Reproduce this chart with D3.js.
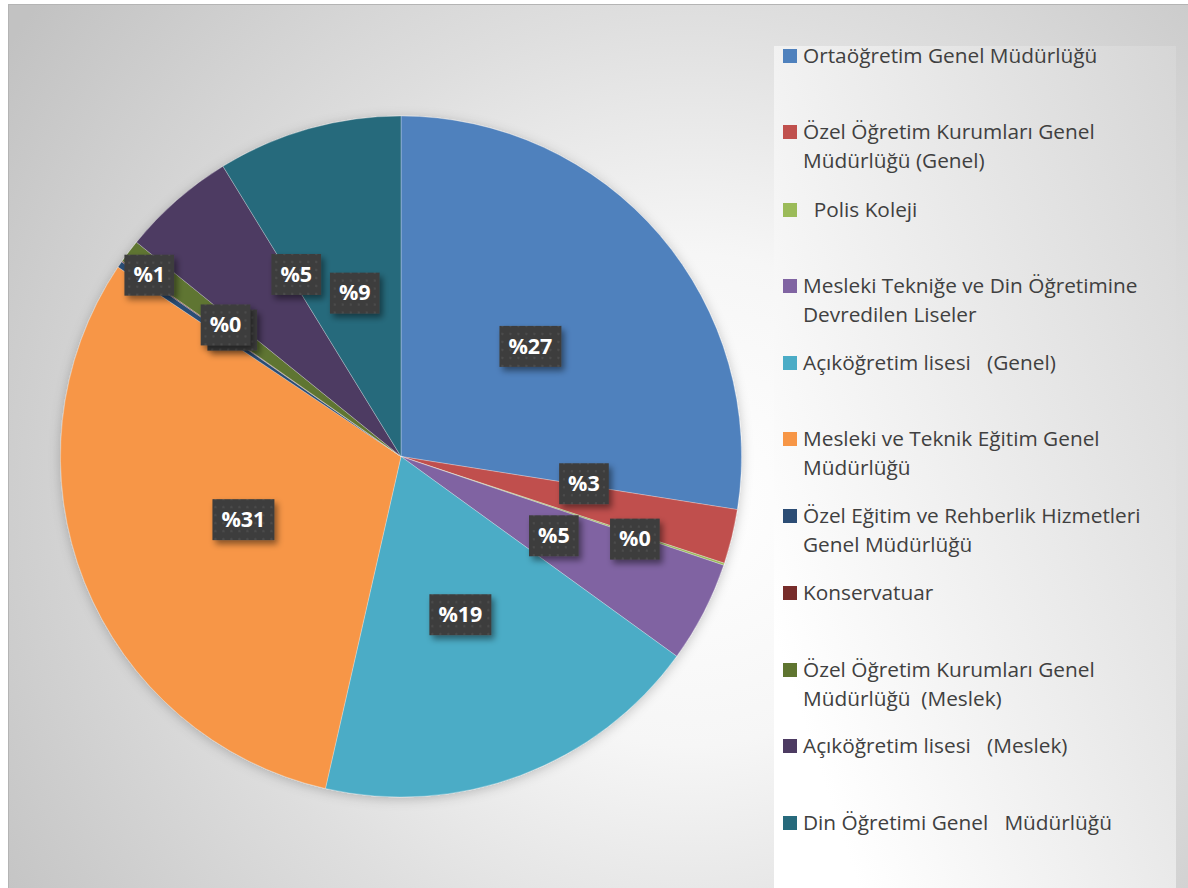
<!DOCTYPE html>
<html>
<head>
<meta charset="utf-8">
<script src="https://cdn.jsdelivr.net/npm/d3@7"></script>
<style>
  body { margin: 0; background: #fff; }
  svg { display: block; }
  .legend text { font-family: "Open Sans", sans-serif; font-size: 20.8px; fill: #404040; white-space: pre; }
  .lbl text { font-family: "Open Sans", sans-serif; font-size: 21.5px; font-weight: bold; fill: #fff; }
</style>
</head>
<body>
<svg id="chart"></svg>
<script>
// Data
const categories = [
    "Ortaöğretim Genel Müdürlüğü",
    "Özel Öğretim Kurumları Genel Müdürlüğü (Genel)",
    "  Polis Koleji",
    "Mesleki Tekniğe ve Din Öğretimine Devredilen Liseler",
    "Açıköğretim lisesi   (Genel)",
    "Mesleki ve Teknik Eğitim Genel Müdürlüğü",
    "Özel Eğitim ve Rehberlik Hizmetleri Genel Müdürlüğü",
    "Konservatuar",
    "Özel Öğretim Kurumları Genel Müdürlüğü  (Meslek)",
    "Açıköğretim lisesi   (Meslek)",
    "Din Öğretimi Genel   Müdürlüğü"
];
// legend line breaks (same order as categories)
const legendLines = [
    ["Ortaöğretim Genel Müdürlüğü"],
    ["Özel Öğretim Kurumları Genel", "Müdürlüğü (Genel)"],
    ["  Polis Koleji"],
    ["Mesleki Tekniğe ve Din Öğretimine", "Devredilen Liseler"],
    ["Açıköğretim lisesi   (Genel)"],
    ["Mesleki ve Teknik Eğitim Genel", "Müdürlüğü"],
    ["Özel Eğitim ve Rehberlik Hizmetleri", "Genel Müdürlüğü"],
    ["Konservatuar"],
    ["Özel Öğretim Kurumları Genel", "Müdürlüğü  (Meslek)"],
    ["Açıköğretim lisesi   (Meslek)"],
    ["Din Öğretimi Genel   Müdürlüğü"]
];
const values = [27.47, 2.58, 0.1, 4.8, 18.57, 30.8, 0.3, 0.05, 1.1, 5.4, 8.75];
const colors = ["#4F81BD", "#C0504D", "#9BBB59", "#8064A2", "#4BACC6", "#F79646",
                "#2C4D75", "#772C2A", "#5F7530", "#4D3B62", "#276A7C"];

// Layout
const W = 1188, H = 888;
const cx = 401, cy = 456.5, R = 340.5;
const legendY = [56, 132, 210, 286, 363, 439, 516, 593, 670, 746, 823];
// label placement: [radius fraction, angle nudge in degrees]
const labelPos = [[0.5, 0], [0.543, -5.3], [0.728, 0.9], [0.505, 0], [0.495, 0], [0.498, 0],
                  [0.62, 2.6], [0.645, 2.0], [0.912, -1.2], [0.618, 11.4], [0.5, 0]];

const svg = d3.select("#chart").attr("width", W).attr("height", H);
const defs = svg.append("defs");

// Background gradient
const bg = defs.append("radialGradient").attr("id", "bg")
    .attr("gradientUnits", "userSpaceOnUse")
    .attr("cx", 690).attr("cy", 500).attr("r", 820);
bg.append("stop").attr("offset", 0).attr("stop-color", "#ffffff");
bg.append("stop").attr("offset", 0.3).attr("stop-color", "#f6f6f6");
bg.append("stop").attr("offset", 0.6).attr("stop-color", "#dedede");
bg.append("stop").attr("offset", 1).attr("stop-color", "#c2c2c2");

const lg = defs.append("linearGradient").attr("id", "lg")
    .attr("x1", 0).attr("y1", 0.7).attr("x2", 1).attr("y2", 0);
lg.append("stop").attr("offset", 0).attr("stop-color", "#ffffff");
lg.append("stop").attr("offset", 1).attr("stop-color", "#d6d6d6");

// Shadows
const pieShadow = defs.append("filter").attr("id", "pieShadow")
    .attr("x", "-10%").attr("y", "-10%").attr("width", "120%").attr("height", "120%");
pieShadow.append("feDropShadow").attr("dx", 0).attr("dy", 2).attr("stdDeviation", 6)
    .attr("flood-color", "#000").attr("flood-opacity", 0.22);

const boxShadow = defs.append("filter").attr("id", "boxShadow")
    .attr("x", "-30%").attr("y", "-30%").attr("width", "160%").attr("height", "160%");
boxShadow.append("feDropShadow").attr("dx", 3).attr("dy", 4).attr("stdDeviation", 3)
    .attr("flood-color", "#000").attr("flood-opacity", 0.45);

const dots = defs.append("pattern").attr("id", "dots")
    .attr("patternUnits", "userSpaceOnUse").attr("width", 8).attr("height", 8);
dots.append("rect").attr("width", 8).attr("height", 8).attr("fill", "#3d3d3d");
dots.append("circle").attr("cx", 4).attr("cy", 4).attr("r", 1.2).attr("fill", "#4c4c4c");

// Frame + background
svg.append("rect").attr("x", 8).attr("y", 4).attr("width", W - 8).attr("height", H - 4)
    .attr("fill", "url(#bg)");
svg.append("line").attr("x1", 8).attr("x2", W).attr("y1", 4.5).attr("y2", 4.5)
    .attr("stroke", "#b4b4b4").attr("stroke-width", 1);
svg.append("line").attr("x1", 8.5).attr("x2", 8.5).attr("y1", 4).attr("y2", H)
    .attr("stroke", "#b4b4b4").attr("stroke-width", 1);

// Legend panel
svg.append("rect").attr("x", 774).attr("y", 46).attr("width", 402).attr("height", H - 46)
    .attr("fill", "url(#lg)");

// Pie
const pie = d3.pie().sort(null).value(d => d);
const arcs = pie(values);
const arc = d3.arc().innerRadius(0).outerRadius(R);

const g = svg.append("g").attr("transform", "translate(" + cx + "," + cy + ")");
g.append("g").attr("filter", "url(#pieShadow)")
    .selectAll("path")
    .data(arcs)
    .enter()
    .append("path")
    .attr("d", arc)
    .attr("fill", (d, i) => colors[i])
    .attr("stroke", "rgba(255,255,255,0.35)")
    .attr("stroke-width", 0.8);

// Data labels
const labels = g.selectAll(".lbl")
    .data(arcs)
    .enter()
    .append("g")
    .attr("class", "lbl")
    .attr("transform", (d, i) => {
        const a = (d.startAngle + d.endAngle) / 2 + labelPos[i][1] * Math.PI / 180;
        const r = labelPos[i][0] * R;
        return "translate(" + (r * Math.sin(a)) + "," + (-r * Math.cos(a)) + ")";
    });

labels.each(function (d, i) {
    const lab = d3.select(this);
    const txt = "%" + Math.round(values[i]);
    const box = lab.append("rect").attr("fill", "url(#dots)").attr("filter", "url(#boxShadow)");
    const t = lab.append("text")
        .attr("text-anchor", "middle")
        .attr("dy", "0.36em")
        .text(txt);
    const w = t.node().getComputedTextLength() + 18;
    box.attr("x", -w / 2).attr("y", -20).attr("width", w).attr("height", 41);
});

// Legend
const legend = svg.append("g").attr("class", "legend");
const items = legend.selectAll("g")
    .data(categories)
    .enter()
    .append("g")
    .attr("transform", (d, i) => "translate(783," + legendY[i] + ")");

items.append("rect")
    .attr("x", 0).attr("y", -7).attr("width", 14).attr("height", 14)
    .attr("fill", (d, i) => colors[i]);

items.each(function (d, i) {
    const t = d3.select(this).append("text").attr("xml:space", "preserve");
    legendLines[i].forEach((line, j) => {
        t.append("tspan").attr("x", 20).attr("y", j * 29).attr("dy", "0.35em").text(line);
    });
});
</script>
</body>
</html>
